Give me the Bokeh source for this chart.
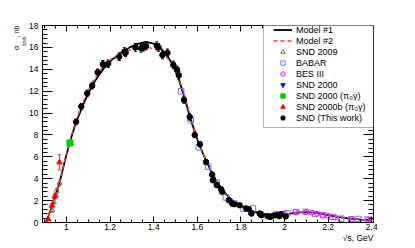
import numpy as np
from bokeh.plotting import figure
from bokeh.models import (Range1d, LinearAxis, FixedTicker, Legend, LegendItem, Title,
                          BoxAnnotation, Whisker, TeeHead, ColumnDataSource)
from bokeh.embed import file_html
from bokeh.resources import INLINE

FONT = "Liberation Sans"

# ---------------- data ----------------
x_ticks = [1.0, 1.2, 1.4, 1.6, 1.8, 2.0, 2.2, 2.4]
x_tick_labels = ["1", "1.2", "1.4", "1.6", "1.8", "2", "2.2", "2.4"]
y_ticks = [0, 2, 4, 6, 8, 10, 12, 14, 16, 18]
y_tick_labels = ["0", "2", "4", "6", "8", "10", "12", "14", "16", "18"]

# Model #1 (solid black)
model1_x = [0.907, 0.92, 0.935, 0.95, 0.97, 0.99, 1.0, 1.015, 1.03, 1.045, 1.07, 1.095,
            1.13, 1.17, 1.21, 1.25, 1.29, 1.33, 1.365, 1.4, 1.43, 1.46, 1.49, 1.51, 1.54,
            1.57, 1.60, 1.63, 1.66, 1.69, 1.72, 1.75, 1.78, 1.82, 1.86, 1.90, 1.95, 2.0,
            2.05, 2.1, 2.15, 2.2, 2.25, 2.3, 2.35, 2.4]
model1_y = [0.0, 0.75, 1.6, 2.4, 3.8, 5.4, 6.2, 7.3, 8.3, 9.2, 10.45, 11.6,
            12.9, 14.05, 14.9, 15.5, 16.0, 16.35, 16.5, 16.35, 15.95, 15.3, 14.3, 13.4, 11.5,
            9.4, 7.6, 6.1, 4.8, 3.7, 2.85, 2.2, 1.75, 1.3, 1.0, 0.8, 0.68, 0.72,
            0.9, 0.95, 0.85, 0.68, 0.5, 0.36, 0.27, 0.22]
# Model #2 (dashed red)
model2_x = model1_x
model2_y = [0.0, 0.8, 1.65, 2.45, 3.9, 5.5, 6.3, 7.4, 8.45, 9.4, 10.7, 11.9,
            13.2, 14.3, 15.0, 15.4, 15.75, 15.95, 16.0, 15.9, 15.6, 15.1, 14.3, 13.5, 11.7,
            9.6, 7.7, 6.1, 4.75, 3.65, 2.8, 2.15, 1.7, 1.28, 1.0, 0.8, 0.7, 0.74,
            0.9, 0.95, 0.85, 0.68, 0.5, 0.36, 0.27, 0.22]

# SND (This work)
snd_x = [1.044, 1.068, 1.095, 1.118, 1.143, 1.167, 1.191, 1.242, 1.266, 1.271, 1.316, 1.342,
         1.353, 1.365, 1.414, 1.422, 1.440, 1.463, 1.490, 1.507, 1.515, 1.539, 1.565, 1.588,
         1.612, 1.640, 1.668, 1.671, 1.690, 1.709, 1.714, 1.744, 1.760, 1.770, 1.794, 1.824,
         1.836, 1.848, 1.886, 1.894, 1.922, 1.935, 1.950, 1.965, 1.976, 1.984, 2.005]
snd_y = [9.2, 10.6, 11.8, 12.5, 13.72, 14.45, 14.5, 15.15, 15.62, 15.5, 16.0, 15.92,
         16.02, 16.12, 16.15, 16.0, 15.3, 15.5, 14.4, 13.95, 13.45, 11.2, 9.65, 8.0,
         7.15, 5.53, 4.38, 3.86, 3.41, 3.04, 2.80, 2.04, 1.73, 1.67, 1.58, 1.28,
         1.21, 0.82, 0.82, 0.67, 0.58, 0.51, 0.64, 0.67, 0.58, 0.76, 0.55]
snd_err = [0.25, 0.28, 0.3, 0.3, 0.3, 0.35, 0.35, 0.35, 0.35, 0.35, 0.35, 0.35,
           0.35, 0.35, 0.35, 0.35, 0.35, 0.35, 0.35, 0.35, 0.35, 0.3, 0.3, 0.25,
           0.25, 0.2, 0.2, 0.2, 0.15, 0.15, 0.15, 0.12, 0.12, 0.1, 0.1, 0.1,
           0.1, 0.1, 0.08, 0.08, 0.08, 0.08, 0.08, 0.08, 0.08, 0.08, 0.08]

# BABAR
babar_x = [1.526, 1.570, 1.607, 1.650, 1.689, 1.731, 1.771, 1.812, 1.855, 1.892, 1.965,
           2.013, 2.053, 2.097, 2.141, 2.177, 2.220, 2.260, 2.306, 2.339, 2.381]
babar_y = [11.99, 9.38, 6.88, 5.1, 3.63, 2.28, 1.73, 1.26, 1.28, 0.76, 0.76,
           0.85, 0.95, 0.97, 0.78, 0.67, 0.51, 0.35, 0.29, 0.32, 0.27]

# BES III
bes_x = [2.0, 2.05, 2.1, 2.125, 2.15, 2.175, 2.2, 2.232, 2.309, 2.386, 2.396]
bes_y = [0.82, 0.95, 0.97, 0.9, 0.8, 0.68, 0.6, 0.46, 0.29, 0.24, 0.22]

# SND 2009
snd09_x = [0.934, 0.942, 0.950, 0.955, 0.969]
snd09_y = [1.12, 1.88, 2.49, 2.89, 3.62]
snd09_err = [0.2, 0.2, 0.2, 0.25, 0.25]

# SND 2000
snd00_x = [1.016]
snd00_y = [7.25]

# SND 2000 (pi0 gamma)
snd00p_x = [1.016]
snd00p_y = [7.27]

# SND 2000b (pi0 gamma)
snd00b_x = [0.916, 0.934, 0.947, 0.968]
snd00b_y = [0.3, 1.55, 2.4, 5.5]
snd00b_err = [0.1, 0.2, 0.2, 0.7]

legend_labels = ["Model #1", "Model #2", "SND 2009", "BABAR", "BES III", "SND 2000",
                 "SND 2000 (\u03c0\u2080\u03b3)", "SND 2000b (\u03c0\u2080\u03b3)", "SND (This work)"]

# ---------------- figure ----------------
p = figure(width=415, height=248, output_backend="svg", toolbar_location=None,
           x_range=Range1d(0.89, 2.408), y_range=Range1d(0, 18),
           min_border_left=42, min_border_right=42, min_border_top=25, min_border_bottom=26,
           x_axis_type=None, y_axis_type=None)
p.grid.visible = False
p.outline_line_color = "black"
p.outline_line_width = 1
p.background_fill_color = "white"
p.border_fill_color = "white"

x_minor = list(np.round(np.arange(0.9, 2.4001, 0.05), 3))
y_minor = list(np.round(np.arange(0, 18.001, 0.4), 3))


def make_axis(cls_ticks, minor, labels_map, tick_len, show_labels):
    ax = LinearAxis(ticker=FixedTicker(ticks=cls_ticks, minor_ticks=minor))
    ax.axis_line_color = "black"
    ax.major_tick_line_color = "black"
    ax.minor_tick_line_color = "black"
    ax.major_tick_in = tick_len
    ax.major_tick_out = 0
    ax.minor_tick_in = tick_len // 2
    ax.minor_tick_out = 0
    ax.major_label_text_font = FONT
    ax.major_label_text_font_size = "8.5px"
    ax.major_label_text_color = "black"
    if show_labels:
        ax.major_label_overrides = labels_map
    else:
        # mirrored ROOT axis: ticks only, no labels
        ax.major_label_overrides = {t: "" for t in cls_ticks}
        ax.major_label_standoff = 0
    return ax


xmap = {t: l for t, l in zip(x_ticks, x_tick_labels)}
ymap = {t: l for t, l in zip(y_ticks, y_tick_labels)}

ax_b = make_axis(x_ticks, x_minor, xmap, 6, True)
ax_b.major_label_standoff = 1
ax_t = make_axis(x_ticks, x_minor, xmap, 6, False)
ax_l = make_axis(y_ticks, y_minor, ymap, 10, True)
ax_l.major_label_standoff = 4
ax_r = make_axis(y_ticks, y_minor, ymap, 10, False)
p.add_layout(ax_b, "below")
p.add_layout(ax_t, "above")
p.add_layout(ax_l, "left")
p.add_layout(ax_r, "right")

# ---------------- models ----------------
r_m1 = p.line(model1_x, model1_y, line_color="black", line_width=1.8)
r_m2 = p.line(model2_x, model2_y, line_color="#e8413c", line_width=1.4, line_dash="4 3")


def errbars(xs, ys, es, color):
    src = ColumnDataSource(dict(x=xs, lo=[y - e for y, e in zip(ys, es)],
                                hi=[y + e for y, e in zip(ys, es)]))
    w = Whisker(source=src, base="x", lower="lo", upper="hi", dimension="height",
                line_color=color, line_width=1,
                lower_head=TeeHead(size=3, line_color=color, line_width=1),
                upper_head=TeeHead(size=3, line_color=color, line_width=1))
    p.add_layout(w)


errbars(snd09_x, snd09_y, snd09_err, "#9c6a5a")
r_snd09 = p.scatter(snd09_x, snd09_y, marker="triangle", size=5, line_color="#9c5a4a",
                    fill_alpha=0, line_width=1)
r_babar = p.scatter(babar_x, babar_y, marker="square", size=5.5, line_color="#7373ff",
                    fill_alpha=0, line_width=1)
r_bes = p.scatter(bes_x, bes_y, marker="circle", size=5, line_color="#ff00ff",
                  fill_alpha=0, line_width=1)
r_snd00 = p.scatter(snd00_x, snd00_y, marker="inverted_triangle", size=5, color="#0000ff")
r_snd00p = p.scatter(snd00p_x, snd00p_y, marker="square", size=6, color="#00cc00")
errbars(snd00b_x, snd00b_y, snd00b_err, "#ff3030")
r_snd00b = p.scatter(snd00b_x, snd00b_y, marker="triangle", size=5.5, color="#ff0000")
errbars(snd_x, snd_y, snd_err, "black")
r_snd = p.scatter(snd_x, snd_y, marker="circle", size=5.5, color="black")

# ---------------- legend ----------------
box = BoxAnnotation(left=221, right=331, bottom=95, top=200,
                    left_units="screen", right_units="screen",
                    bottom_units="screen", top_units="screen",
                    fill_color="white", fill_alpha=1, line_color="black", line_width=1)
p.add_layout(box)

renderers = [r_m1, r_m2, r_snd09, r_babar, r_bes, r_snd00, r_snd00p, r_snd00b, r_snd]
items = [LegendItem(label=l, renderers=[r]) for l, r in zip(legend_labels, renderers)]
legend = Legend(items=items, location=(230, 98), padding=1, margin=0, spacing=0,
                glyph_width=19, glyph_height=11, label_height=11, label_standoff=4,
                label_text_font=FONT, label_text_font_size="9px", label_text_color="black",
                border_line_alpha=0, background_fill_alpha=0)
p.add_layout(legend)

# ---------------- axis titles (side panels, right/top aligned as in ROOT) ----------------
x_title = Title(text="\u221as, GeV", align="right", standoff=0, vertical_align="top",
                text_font=FONT, text_font_size="8.5px", text_font_style="normal",
                text_color="black")
p.add_layout(x_title, "below")

y_sub = Title(text="born", align="right", offset=11, standoff=0, text_font=FONT,
              text_font_size="4.5px", text_font_style="normal", text_color="black")
y_main = Title(text="\u03c3\u2003\u2009, nb", align="right", standoff=0, text_font=FONT,
               text_font_size="7px", text_font_style="normal", text_color="black")
p.add_layout(y_sub, "left")
p.add_layout(y_main, "left")

open("out.html", "w").write(file_html(p, INLINE))
